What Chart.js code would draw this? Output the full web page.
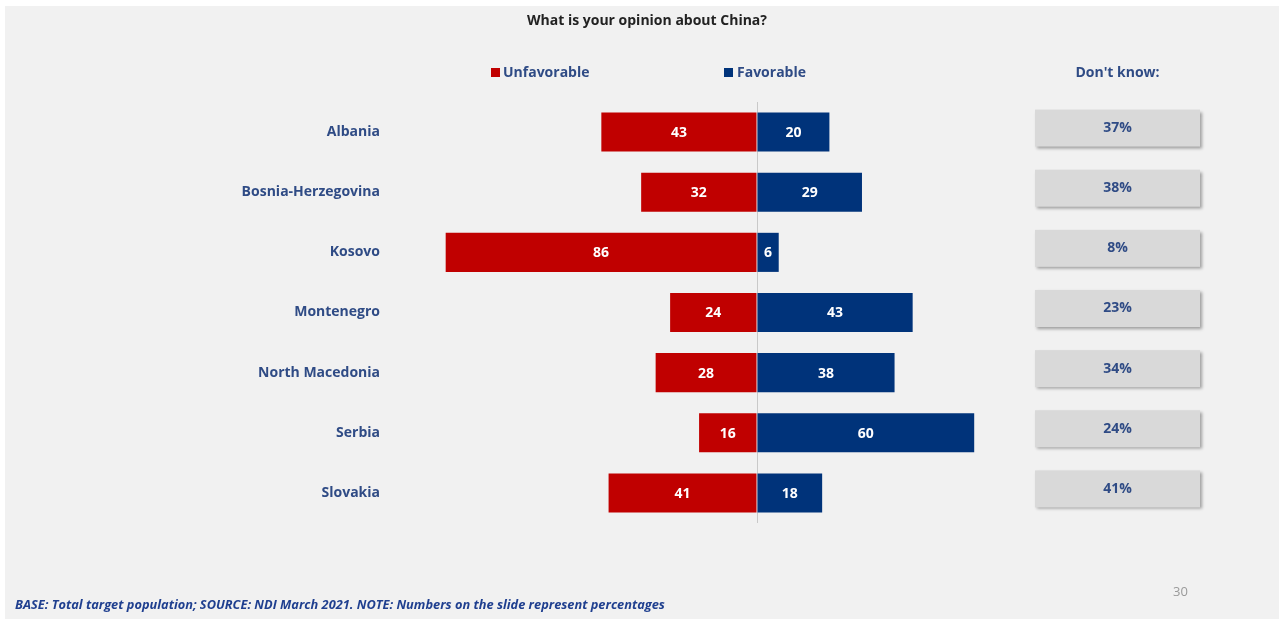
<!DOCTYPE html>
<html>
<head>
<meta charset="utf-8">
<title>What is your opinion about China?</title>
<script src="https://cdn.jsdelivr.net/npm/chart.js@4.4.1/dist/chart.umd.min.js"></script>
<style>
  html, body { margin: 0; padding: 0; background: #fff; }
  #wrap { width: 1279px; height: 619px; }
</style>
</head>
<body>
<div id="wrap"><canvas id="chinaChart" width="1279" height="619"></canvas></div>
<script>
const countries = ['Albania', 'Bosnia-Herzegovina', 'Kosovo', 'Montenegro', 'North Macedonia', 'Serbia', 'Slovakia'];
const unfavorable = [43, 32, 86, 24, 28, 16, 41];
const favorable = [20, 29, 6, 43, 38, 60, 18];
const dontKnow = [37, 38, 8, 23, 34, 24, 41];

const RED = '#c00000';
const NAVY = '#00337a';
const TEXT_BLUE = '#2f4b85';
const FONT = '"Open Sans", Roboto, sans-serif';

// slide chrome: background, title, legend, "don't know" column, footer
const slide = {
  id: 'slide',
  beforeDraw(chart) {
    const ctx = chart.ctx;
    ctx.save();
    ctx.fillStyle = '#ffffff';
    ctx.fillRect(0, 0, chart.width, chart.height);
    ctx.fillStyle = '#f1f1f1';
    ctx.fillRect(5, 6, chart.width - 5, chart.height - 6);
    ctx.restore();
  },
  afterDatasetsDraw(chart) {
    const ctx = chart.ctx;
    ctx.save();
    ctx.font = 'bold 14px ' + FONT;
    ctx.fillStyle = '#ffffff';
    ctx.textAlign = 'center';
    ctx.textBaseline = 'middle';
    chart.data.datasets.forEach((ds, i) => {
      chart.getDatasetMeta(i).data.forEach((bar, j) => {
        const cx = (bar.x + bar.base) / 2;
        ctx.fillText(String(Math.abs(ds.data[j])), cx, bar.y + 1);
      });
    });
    ctx.restore();
  },
  afterDraw(chart) {
    const ctx = chart.ctx;
    const x0 = chart.scales.x.getPixelForValue(0);
    const yScale = chart.scales.y;
    ctx.save();

    // title
    ctx.fillStyle = '#222222';
    ctx.font = 'bold 14px ' + FONT;
    ctx.textAlign = 'center';
    ctx.textBaseline = 'middle';
    ctx.fillText('What is your opinion about China?', 647, 21);

    // legend
    ctx.textAlign = 'left';
    ctx.fillStyle = RED;
    ctx.fillRect(x0 - 266, 68, 9, 9);
    ctx.fillStyle = NAVY;
    ctx.fillRect(x0 - 33, 68, 9, 9);
    ctx.fillStyle = TEXT_BLUE;
    ctx.fillText(chart.data.datasets[0].label, x0 - 254, 73);
    ctx.fillText(chart.data.datasets[1].label, x0 - 20, 73);

    // don't know column
    const boxLeft = 1035, boxW = 165, boxH = 37;
    ctx.textAlign = 'center';
    ctx.fillText("Don't know:", boxLeft + boxW / 2, 73);
    dontKnow.forEach((v, i) => {
      const cy = yScale.getPixelForValue(i) - 4;
      ctx.save();
      ctx.shadowColor = 'rgba(0,0,0,0.35)';
      ctx.shadowOffsetX = 2;
      ctx.shadowOffsetY = 2;
      ctx.shadowBlur = 3;
      ctx.fillStyle = '#d9d9d9';
      ctx.fillRect(boxLeft, cy - boxH / 2, boxW, boxH);
      ctx.restore();
      ctx.fillStyle = TEXT_BLUE;
      ctx.fillText(v + '%', boxLeft + boxW / 2, cy);
    });

    // footer
    ctx.textAlign = 'left';
    ctx.fillStyle = '#1f3f8f';
    ctx.font = 'italic bold 12.8px ' + FONT;
    ctx.fillText('BASE: Total target population; SOURCE: NDI March 2021. NOTE: Numbers on the slide represent percentages', 15, 605);

    ctx.fillStyle = '#9a9a9a';
    ctx.font = '13px ' + FONT;
    ctx.fillText('30', 1173, 592);
    ctx.restore();
  }
};

new Chart(document.getElementById('chinaChart'), {
  type: 'bar',
  data: {
    labels: countries,
    datasets: [
      { label: 'Unfavorable', data: unfavorable.map(v => -v), backgroundColor: RED },
      { label: 'Favorable', data: favorable, backgroundColor: NAVY }
    ]
  },
  options: {
    indexAxis: 'y',
    responsive: false,
    animation: false,
    layout: { padding: { left: 0, right: 160, top: 102, bottom: 96 } },
    barPercentage: 0.65,
    categoryPercentage: 1,
    plugins: {
      legend: { display: false },
      tooltip: { enabled: false },
      title: { display: false }
    },
    scales: {
      x: {
        stacked: true,
        min: -100,
        max: 100,
        ticks: { display: false },
        border: { display: false },
        grid: {
          drawTicks: false,
          color: c => (c.tick && c.tick.value === 0) ? '#c9c9c9' : 'rgba(0,0,0,0)',
          lineWidth: 1
        },
        afterFit: s => { s.height = 0; }
      },
      y: {
        stacked: true,
        border: { display: false },
        grid: { display: false, drawTicks: false },
        ticks: {
          padding: 15,
          color: TEXT_BLUE,
          font: { family: FONT, size: 14, weight: 'bold' }
        },
        afterFit: s => { s.width = 395; }
      }
    }
  },
  plugins: [slide]
});
</script>
</body>
</html>
